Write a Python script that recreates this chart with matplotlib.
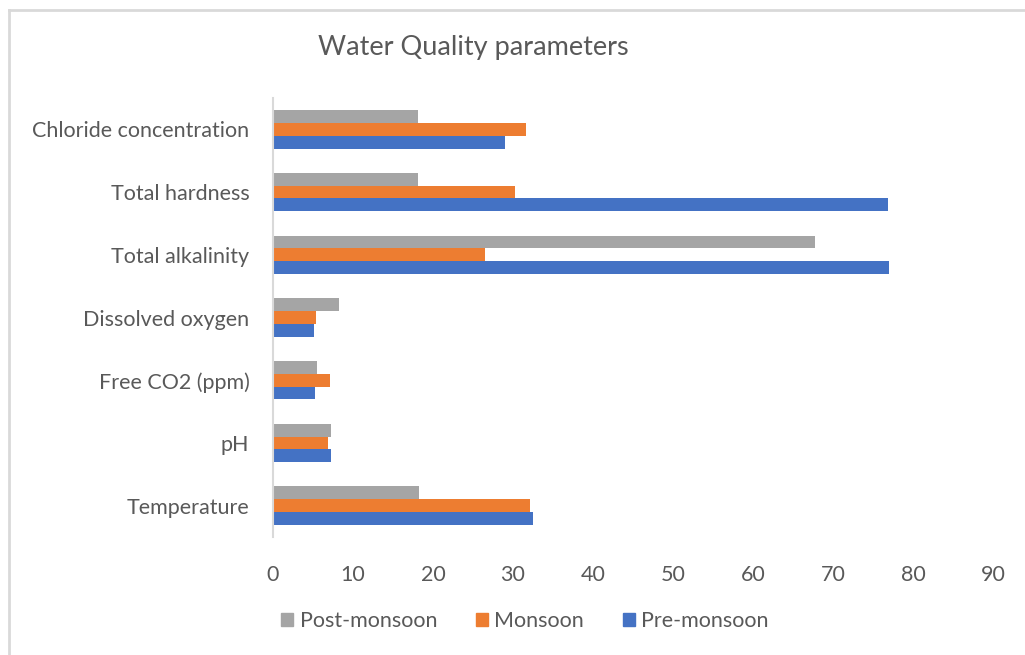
import matplotlib.pyplot as plt
import numpy as np
from matplotlib.patches import Patch
from matplotlib.lines import Line2D

plt.rcParams['font.family'] = ['Lato', 'DejaVu Sans']

# Water quality parameters by season
parameters = ['Temperature', 'pH', 'Free CO2 (ppm)', 'Dissolved oxygen',
              'Total alkalinity', 'Total hardness', 'Chloride concentration']
pre_monsoon = [32.5, 7.25, 5.25, 5.1, 77.0, 76.9, 29.0]
monsoon = [32.1, 6.9, 7.1, 5.4, 26.5, 30.25, 31.6]
post_monsoon = [18.3, 7.25, 5.5, 8.3, 67.8, 18.1, 18.1]

c_pre = '#4472c4'
c_mon = '#ed7d31'
c_post = '#a5a5a5'
text_col = '#595959'

fig = plt.figure(figsize=(10.25, 6.55), dpi=100)
ax = fig.add_axes([273 / 1025, 1 - 537 / 655, 720 / 1025, 439 / 655])

y = np.arange(len(parameters))
h = 0.205
ax.barh(y - h, pre_monsoon, h, color=c_pre, label='Pre-monsoon')
ax.barh(y, monsoon, h, color=c_mon, label='Monsoon')
ax.barh(y + h, post_monsoon, h, color=c_post, label='Post-monsoon')

ax.set_xlim(0, 90)
ax.set_ylim(-0.5, len(parameters) - 0.5)
ax.set_xticks(np.arange(0, 91, 10))
ax.set_yticks(y)
ax.set_yticklabels(parameters)
ax.tick_params(axis='both', length=0, labelsize=15.5, colors=text_col)
ax.tick_params(axis='x', pad=20)
ax.tick_params(axis='y', pad=17)
for s in ['top', 'right', 'bottom']:
    ax.spines[s].set_visible(False)
ax.spines['left'].set_color('#d9d9d9')
ax.spines['left'].set_linewidth(1.5)

fig.text(473 / 1025, 1 - 48 / 655, 'Water Quality parameters', ha='center',
         va='center', fontsize=19.5, color=text_col)

handles = [Patch(color=c_post), Patch(color=c_mon), Patch(color=c_pre)]
fig.legend(handles, ['Post-monsoon', 'Monsoon', 'Pre-monsoon'],
           loc='center', bbox_to_anchor=(525 / 1025, 1 - 621 / 655), ncol=3,
           frameon=False, fontsize=15.5, labelcolor=text_col, handlelength=0.55,
           handleheight=0.55, handletextpad=0.3, columnspacing=1.8)

# light frame around the chart area
frame_col = '#d9d9d9'
fig.add_artist(Line2D([9 / 1025, 1], [1 - 10 / 655, 1 - 10 / 655],
                      transform=fig.transFigure, color=frame_col, lw=2))
fig.add_artist(Line2D([9 / 1025, 9 / 1025], [0, 1 - 10 / 655],
                      transform=fig.transFigure, color=frame_col, lw=2))

plt.savefig('out.png', dpi=100)
